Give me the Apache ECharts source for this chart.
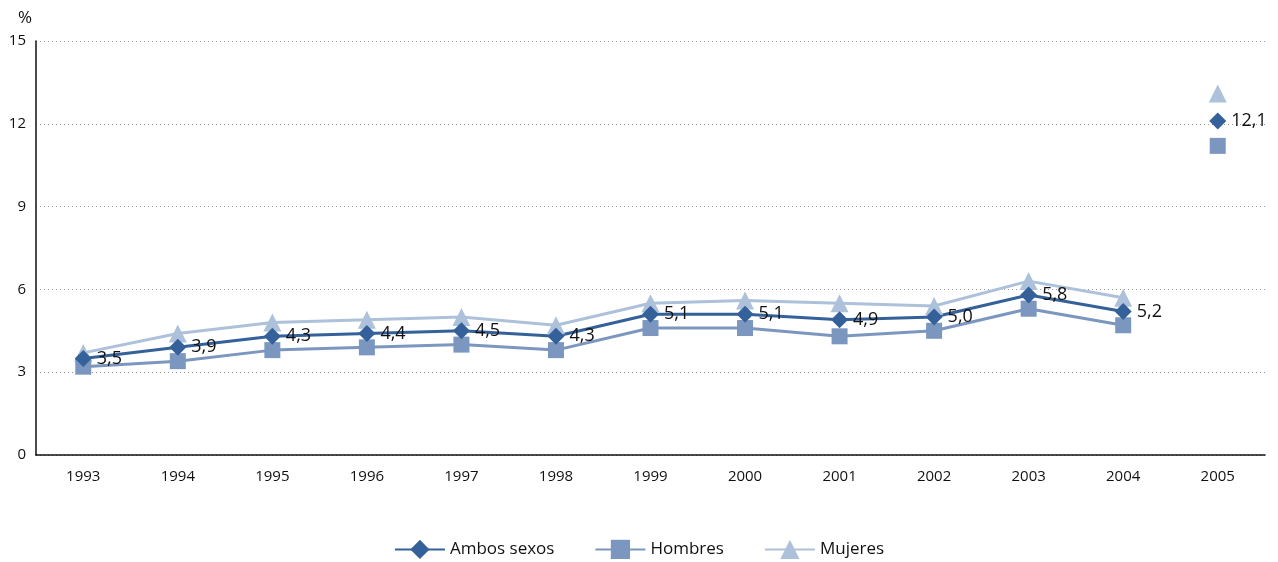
<!DOCTYPE html>
<html>
<head>
<meta charset="utf-8">
<script src="https://cdn.jsdelivr.net/npm/echarts@6/dist/echarts.min.js"></script>
<style>
  html, body { margin: 0; padding: 0; background: #fff; }
  #chart { width: 1278px; height: 562px; }
</style>
</head>
<body>
<div id="chart"></div>
<script>
// datos
const years = ['1993', '1994', '1995', '1996', '1997', '1998', '1999', '2000', '2001', '2002', '2003', '2004', '2005'];
const ambos = [3.5, 3.9, 4.3, 4.4, 4.5, 4.3, 5.1, 5.1, 4.9, 5.0, 5.8, 5.2];
const hombres = [3.2, 3.4, 3.8, 3.9, 4.0, 3.8, 4.6, 4.6, 4.3, 4.5, 5.3, 4.7];
const mujeres = [3.7, 4.4, 4.8, 4.9, 5.0, 4.7, 5.5, 5.6, 5.5, 5.4, 6.3, 5.7];
// 2005 aparece suelto, sin linea
const ambos2005 = 12.1;
const hombres2005 = 11.2;
const mujeres2005 = 13.1;

const font = 'Open Sans';
const colors = { ambos: '#35619a', hombres: '#7b97bf', mujeres: '#adc1da' };

function lineData(arr) {
    return arr.concat(['-']);
}
function lastOnly(v) {
    const d = years.map(() => '-');
    d[years.length - 1] = v;
    return d;
}
const fmt = p => String(p.value).indexOf('.') >= 0 ? String(p.value).replace('.', ',') : p.value + ',0';

function makeSeries(name, data, color, symbol, size, withLabel) {
    return {
        name: name,
        type: 'line',
        data: data,
        symbol: symbol,
        symbolSize: size,
        lineStyle: { color: color, width: 3 },
        itemStyle: { color: color },
        showAllSymbol: true,
        connectNulls: false,
        animation: false,
        label: withLabel ? {
            show: true, position: 'right', distance: 5,
            color: '#111', fontFamily: font, fontSize: 18, formatter: fmt
        } : { show: false },
        emphasis: { disabled: true }
    };
}

const chart = echarts.init(document.getElementById('chart'));
chart.setOption({
    animation: false,
    grid: { left: 36, right: 13, top: 41, bottom: 107 },
    legend: {
        bottom: -2,
        left: 'center',
        itemWidth: 50,
        itemHeight: 24,
        itemGap: 40,
        textStyle: { fontFamily: font, fontSize: 17, color: '#111' },
        data: ['Ambos sexos', 'Hombres', 'Mujeres']
    },
    xAxis: {
        type: 'category',
        data: years,
        boundaryGap: true,
        axisLine: { lineStyle: { color: '#111', width: 1.5 } },
        axisTick: { show: false },
        axisLabel: { color: '#111', fontFamily: font, fontSize: 15, margin: 14 }
    },
    yAxis: {
        type: 'value',
        min: 0, max: 15, interval: 3,
        name: '%',
        nameLocation: 'end',
        nameGap: 14,
        nameTextStyle: { color: '#111', fontFamily: font, fontSize: 17, align: 'right', padding: [0, 4, 0, 0] },
        axisLine: { show: true, lineStyle: { color: '#111', width: 1.5 } },
        axisTick: { show: false },
        axisLabel: { color: '#111', fontFamily: font, fontSize: 15, margin: 10 },
        splitLine: { lineStyle: { color: '#999', type: [1, 3], width: 1 } }
    },
    series: [
        makeSeries('Mujeres', lineData(mujeres), colors.mujeres, 'triangle', 18, false),
        makeSeries('Hombres', lineData(hombres), colors.hombres, 'rect', 16, false),
        makeSeries('Ambos sexos', lineData(ambos), colors.ambos, 'diamond', 17, true),
        makeSeries('Mujeres', lastOnly(mujeres2005), colors.mujeres, 'triangle', 18, false),
        makeSeries('Hombres', lastOnly(hombres2005), colors.hombres, 'rect', 16, false),
        makeSeries('Ambos sexos', lastOnly(ambos2005), colors.ambos, 'diamond', 17, true)
    ]
});
</script>
</body>
</html>
